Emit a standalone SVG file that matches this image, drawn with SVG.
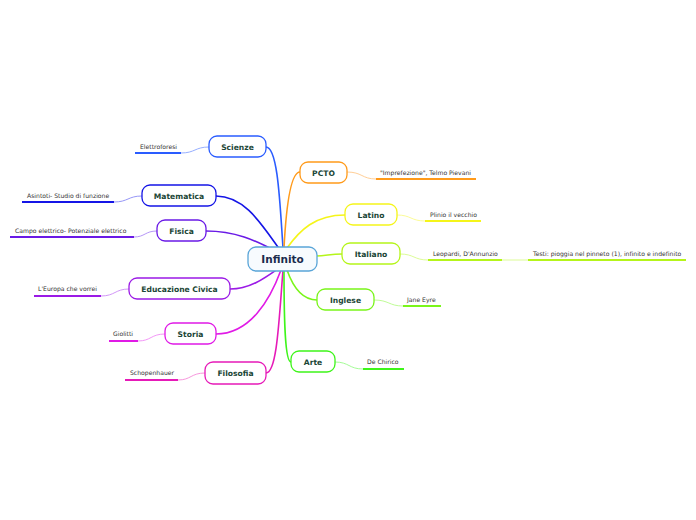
<svg xmlns="http://www.w3.org/2000/svg" width="696" height="520" viewBox="0 0 696 520">
<style>
.node{fill:#ffffff;stroke-width:1.3}
.nt{font-family:"DejaVu Sans",sans-serif;font-size:7.6px;font-weight:bold;fill:#1b4636;text-anchor:middle}
.lt{font-family:"DejaVu Sans",sans-serif;font-size:6.1px;fill:#333333}
.ul{stroke-width:2;fill:none}
.lk{fill:none;stroke-width:1.6}
.ll{fill:none;stroke-width:0.9}
</style>
<rect width="696" height="520" fill="#ffffff"/>
<g id="connectors">
<path class="lk" stroke="#2a5cff" d="M266,147 C278,147 280,205 283,248"/>
<path class="lk" stroke="#1515e6" d="M216,196 C245,196 262,225 280,250"/>
<path class="lk" stroke="#6a1ae6" d="M206,231 C235,231 255,240 277,252"/>
<path class="lk" stroke="#9b1ae6" d="M230,289 C250,289 265,278 279,268"/>
<path class="lk" stroke="#e01ae6" d="M216,334 C250,334 270,300 281,270"/>
<path class="lk" stroke="#e61ab8" d="M266,373 C277,373 279,320 283,270"/>
<path class="lk" stroke="#ff9a1a" d="M300,172 C290,172 286,210 284,248"/>
<path class="lk" stroke="#f5f51a" d="M345,215 C315,215 300,230 287,248"/>
<path class="lk" stroke="#b5f51a" d="M342,254 C330,254 326,256 316,256"/>
<path class="lk" stroke="#7af51a" d="M317,300 C302,300 293,287 287,270"/>
<path class="lk" stroke="#3ef51a" d="M291,362 C285,362 284,320 284,270"/>
<path class="ll" stroke="#8aa5ff" d="M209,147 C195,147 195,153 181,153"/>
<path class="ll" stroke="#8a8af5" d="M142,196 C128,196 128,202 114,202"/>
<path class="ll" stroke="#ad8af5" d="M157,231 C145,231 145,237 134,237"/>
<path class="ll" stroke="#cc8af5" d="M129,289 C115,289 115,296 101,296"/>
<path class="ll" stroke="#f08af5" d="M165,334 C151,334 151,341 138,341"/>
<path class="ll" stroke="#f58ad8" d="M205,373 C191,373 191,380 178,380"/>
<path class="ll" stroke="#ffc88a" d="M347,172 C362,172 362,179 376,179"/>
<path class="ll" stroke="#fafa8a" d="M397,215 C411,215 411,221 425,221"/>
<path class="ll" stroke="#d8fa8a" d="M400,254 C414,254 414,260 428,260"/>
<path class="ll" stroke="#d8fa8a" d="M502,260 L528,260"/>
<path class="ll" stroke="#b8fa8a" d="M374,300 C389,300 389,306 403,306"/>
<path class="ll" stroke="#9afa8a" d="M335,362 C349,362 349,369 363,369"/>
</g>
<g id="infinito">
<rect x="248" y="247" width="69" height="24" rx="8" fill="#f7fbfe" stroke="#5aa5d8" stroke-width="1.3"/>
<text x="282.5" y="263" font-family="DejaVu Sans,sans-serif" font-size="10.5px" font-weight="bold" fill="#1a2b4d" text-anchor="middle">Infinito</text>
</g>
<g id="scienze">
<rect class="node" x="209" y="136" width="57" height="21" rx="8" stroke="#2a5cff"/>
<text class="nt" x="237.5" y="149.5">Scienze</text>
</g>
<g id="elettroforesi">
<text class="lt" x="140" y="149">Elettroforesi</text>
<line class="ul" x1="135" y1="153" x2="181" y2="153" stroke="#2a5cff"/>
</g>
<g id="matematica">
<rect class="node" x="142" y="185" width="74" height="21" rx="8" stroke="#1515e6"/>
<text class="nt" x="179" y="198.5">Matematica</text>
</g>
<g id="asintoti">
<text class="lt" x="27" y="198">Asintoti- Studio di funzione</text>
<line class="ul" x1="22" y1="202" x2="114" y2="202" stroke="#1515e6"/>
</g>
<g id="fisica">
<rect class="node" x="157" y="220" width="49" height="21" rx="8" stroke="#6a1ae6"/>
<text class="nt" x="181.5" y="233.5">Fisica</text>
</g>
<g id="campo">
<text class="lt" x="15" y="233">Campo elettrico- Potenziale elettrico</text>
<line class="ul" x1="10" y1="237" x2="134" y2="237" stroke="#6a1ae6"/>
</g>
<g id="educazione">
<rect class="node" x="129" y="278" width="101" height="21" rx="8" stroke="#9b1ae6"/>
<text class="nt" x="179.5" y="291.5">Educazione Civica</text>
</g>
<g id="europa">
<text class="lt" x="38" y="291">L'Europa che vorrei</text>
<line class="ul" x1="34" y1="296" x2="101" y2="296" stroke="#9b1ae6"/>
</g>
<g id="storia">
<rect class="node" x="165" y="323" width="51" height="21" rx="8" stroke="#e01ae6"/>
<text class="nt" x="190.5" y="336.5">Storia</text>
</g>
<g id="giolitti">
<text class="lt" x="113" y="336">Giolitti</text>
<line class="ul" x1="109" y1="341" x2="138" y2="341" stroke="#e01ae6"/>
</g>
<g id="filosofia">
<rect class="node" x="205" y="362" width="61" height="22" rx="8" stroke="#e61ab8"/>
<text class="nt" x="235.5" y="376">Filosofia</text>
</g>
<g id="schopenhauer">
<text class="lt" x="130" y="375">Schopenhauer</text>
<line class="ul" x1="125" y1="380" x2="178" y2="380" stroke="#e61ab8"/>
</g>
<g id="pcto">
<rect class="node" x="300" y="162" width="47" height="21" rx="8" stroke="#ff9a1a"/>
<text class="nt" x="323.5" y="175.5">PCTO</text>
</g>
<g id="imprefezione">
<text class="lt" x="380" y="175">"Imprefezione", Telmo Pievani</text>
<line class="ul" x1="376" y1="179" x2="476" y2="179" stroke="#ff9a1a"/>
</g>
<g id="latino">
<rect class="node" x="345" y="204" width="52" height="21" rx="8" stroke="#f5f51a"/>
<text class="nt" x="371" y="217.5">Latino</text>
</g>
<g id="plinio">
<text class="lt" x="430" y="217">Plinio il vecchio</text>
<line class="ul" x1="425" y1="221" x2="481" y2="221" stroke="#f5f51a"/>
</g>
<g id="italiano">
<rect class="node" x="342" y="243" width="58" height="21" rx="8" stroke="#b5f51a"/>
<text class="nt" x="371" y="256.5">Italiano</text>
</g>
<g id="leopardi">
<text class="lt" x="433" y="256">Leopardi, D'Annunzio</text>
<line class="ul" x1="428" y1="260" x2="502" y2="260" stroke="#b5f51a"/>
</g>
<g id="testi">
<text class="lt" x="533" y="256">Testi: pioggia nel pinneto (1), infinito e indefinito</text>
<line class="ul" x1="528" y1="260" x2="686" y2="260" stroke="#b5f51a"/>
</g>
<g id="inglese">
<rect class="node" x="317" y="289" width="57" height="21" rx="8" stroke="#7af51a"/>
<text class="nt" x="345.5" y="302.5">Inglese</text>
</g>
<g id="janeeyre">
<text class="lt" x="407" y="302">Jane Eyre</text>
<line class="ul" x1="403" y1="306" x2="441" y2="306" stroke="#7af51a"/>
</g>
<g id="arte">
<rect class="node" x="291" y="351" width="44" height="21" rx="8" stroke="#3ef51a"/>
<text class="nt" x="313" y="364.5">Arte</text>
</g>
<g id="dechirico">
<text class="lt" x="367" y="364">De Chirico</text>
<line class="ul" x1="363" y1="369" x2="404" y2="369" stroke="#3ef51a"/>
</g>
</svg>
